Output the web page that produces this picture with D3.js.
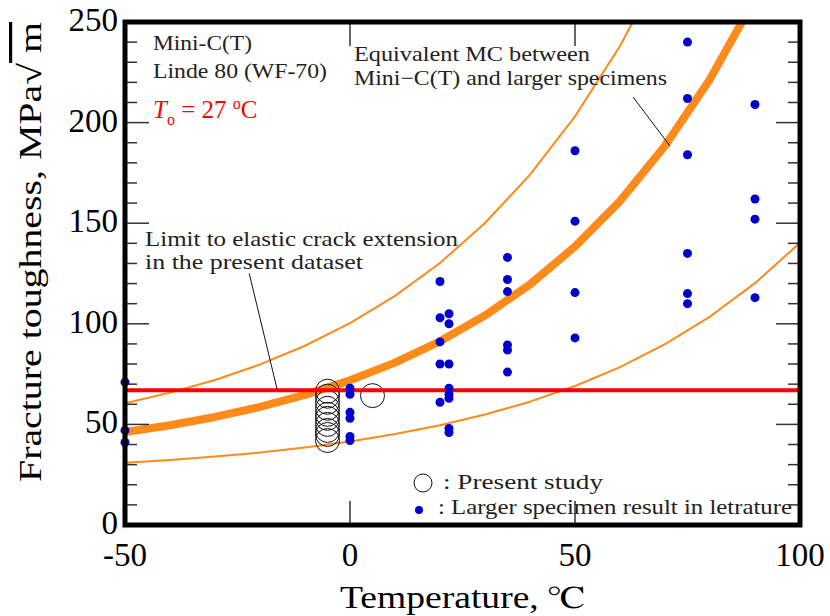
<!DOCTYPE html>
<html>
<head>
<meta charset="utf-8">
<script src="https://cdn.jsdelivr.net/npm/d3@7"></script>
<style>
  body { margin: 0; background: #fff; }
  svg { display: block; }
  svg text { font-family: "Liberation Serif", "Nimbus Roman", "Nimbus Roman No9 L", FreeSerif, Tinos, "Times New Roman", Times, "Noto Serif", serif; }
</style>
</head>
<body>
<svg id="chart" width="830" height="616"></svg>
<script>
// ---- data ----
// larger specimens from literature (filled blue dots)
const largerTemp = [-50, -50, -50,
  0, 0, 0, 0, 0, 0,
  20, 20, 20, 20, 20,
  22, 22, 22, 22, 22, 22, 22, 22,
  35, 35, 35, 35, 35, 35,
  50, 50, 50, 50,
  75, 75, 75, 75, 75, 75,
  90, 90, 90, 90];
const largerK = [71, 47, 41,
  68, 65, 56, 53, 44, 42,
  121, 103, 91, 80, 61,
  105, 100, 80, 68, 65, 63, 48, 46,
  133, 122, 116, 89.5, 87, 76,
  186, 151, 115.5, 93,
  240, 212, 184, 135, 115, 110,
  209, 162, 152, 113];

// present study, Mini-C(T) (open circles)
const presentTemp = [-5, -5, -5, -5, -5, -5, -5, -5, -5, -5, 5];
const presentK = [66.5, 64, 61, 58, 55, 53, 50, 47, 45, 42, 64.3];

// master curve and bounds (read at these temperatures)
const curveTemp = [-50, -40, -30, -20, -10, 0, 10, 20, 30, 40, 50, 60, 70, 80, 90, 100];
const kMedian = [46.2, 49.6, 53.7, 58.7, 64.7, 71.9, 80.7, 91.3, 104.1, 119.6, 138.4, 161.0, 188.5, 221.6, 261.7, null];
const kUpper  = [60.5, 65.8, 72.1, 79.8, 89.1, 100.3, 113.9, 130.2, 150.1, 174.1, 203.1, 238.1, 280.5, null, null, null];
const kLower  = [30.9, 32.3, 34.0, 36.0, 38.5, 41.5, 45.2, 49.6, 54.9, 61.3, 69.1, 78.5, 89.9, 103.6, 120.2, 140.3];

const limitK = 67;

const xTicks = [-50, 0, 50, 100];
const yTicks = [0, 50, 100, 150, 200, 250];

// ---- setup ----
const svg = d3.select("#chart");
const orange = "#ff8a1c";
const blue = "#0000cd";

const x = d3.scaleLinear().domain([-50, 100]).range([125, 800]);
const y = d3.scaleLinear().domain([0, 250]).range([525, 22]);

svg.append("clipPath").attr("id", "clip")
  .append("rect")
  .attr("x", x(-50)).attr("y", y(250))
  .attr("width", x(100) - x(-50)).attr("height", y(0) - y(250));

const plot = svg.append("g").attr("clip-path", "url(#clip)");

// ticks (inside the frame)
const yMinor = d3.range(0, 251, 10);
const tickG = svg.append("g").attr("stroke", "#333").attr("stroke-width", 1.5);
tickG.selectAll(".yl").data(yMinor).join("line")
  .attr("x1", x(-50)).attr("x2", d => x(-50) + (d % 50 === 0 ? 24 : 12))
  .attr("y1", d => y(d)).attr("y2", d => y(d));
tickG.selectAll(".yr").data(yMinor).join("line")
  .attr("x1", x(100)).attr("x2", d => x(100) - (d % 50 === 0 ? 24 : 12))
  .attr("y1", d => y(d)).attr("y2", d => y(d));
tickG.selectAll(".xb").data([0, 50]).join("line")
  .attr("x1", d => x(d)).attr("x2", d => x(d))
  .attr("y1", y(0)).attr("y2", y(0) - 24);
tickG.selectAll(".xt").data([0, 50]).join("line")
  .attr("x1", d => x(d)).attr("x2", d => x(d))
  .attr("y1", y(250)).attr("y2", y(250) + 24);

// curves
const line = d3.line()
  .defined(d => d[1] != null)
  .x(d => x(d[0])).y(d => y(d[1]));

const curves = [
  { k: kUpper, w: 2 },
  { k: kLower, w: 2 },
  { k: kMedian, w: 8 }
];
curves.forEach(c => {
  plot.append("path")
    .datum(curveTemp.map((t, i) => [t, c.k[i]]))
    .attr("d", line)
    .attr("fill", "none")
    .attr("stroke", orange)
    .attr("stroke-width", c.w)
    .attr("stroke-linejoin", "round");
});

// present study circles
plot.selectAll(".present").data(presentTemp).join("circle")
  .attr("cx", d => x(d))
  .attr("cy", (d, i) => y(presentK[i]))
  .attr("r", 12)
  .attr("fill", "none")
  .attr("stroke", "#111")
  .attr("stroke-width", 1);

// limit line
plot.append("line")
  .attr("x1", x(-50)).attr("x2", x(100))
  .attr("y1", y(limitK)).attr("y2", y(limitK))
  .attr("stroke", "#ff0000").attr("stroke-width", 4);

// larger specimen dots
svg.selectAll(".larger").data(largerTemp).join("circle")
  .attr("cx", d => x(d))
  .attr("cy", (d, i) => y(largerK[i]))
  .attr("r", 4.5)
  .attr("fill", blue);

// frame
svg.append("rect")
  .attr("x", x(-50)).attr("y", y(250))
  .attr("width", x(100) - x(-50)).attr("height", y(0) - y(250))
  .attr("fill", "none").attr("stroke", "#000").attr("stroke-width", 5);

// tick labels
svg.selectAll(".ylab").data(yTicks).join("text")
  .attr("x", 118).attr("y", d => y(d) + 9)
  .attr("text-anchor", "end")
  .attr("font-size", 33)
  .text(d => d);
svg.selectAll(".xlab").data(xTicks).join("text")
  .attr("x", d => x(d)).attr("y", 566)
  .attr("text-anchor", "middle")
  .attr("font-size", 33)
  .text(d => d);

// axis titles
svg.append("text")
  .attr("x", 462).attr("y", 608)
  .attr("text-anchor", "middle")
  .attr("font-size", 32)
  .attr("textLength", 244).attr("lengthAdjust", "spacingAndGlyphs")
  .text("Temperature, ℃");

const yt = svg.append("text")
  .attr("transform", "translate(41,252) rotate(-90)")
  .attr("text-anchor", "middle")
  .attr("font-size", 32)
  .attr("textLength", 460).attr("lengthAdjust", "spacingAndGlyphs");
yt.append("tspan").text("Fracture toughness, MPa√");
yt.append("tspan").style("text-decoration", "overline").text(" m");

// annotations
const note = (tx, ty, str, len, size) => svg.append("text")
  .attr("x", tx).attr("y", ty)
  .attr("font-size", size)
  .attr("fill", "#222")
  .attr("textLength", len).attr("lengthAdjust", "spacingAndGlyphs")
  .text(str);

note(153, 50, "Mini-C(T)", 99, 22);
note(153, 78, "Linde 80 (WF-70)", 174, 22);

const to = svg.append("text")
  .attr("x", 153).attr("y", 118)
  .attr("font-size", 25)
  .attr("fill", "#ff0000");
to.append("tspan").attr("font-style", "italic").text("T");
to.append("tspan").attr("font-size", 16).attr("dy", 7).text("o");
to.append("tspan").attr("dy", -7).text(" =  27 ");
to.append("tspan").attr("font-size", 16).attr("dy", -9).text("o");
to.append("tspan").attr("dy", 9).text("C");

note(354, 61, "Equivalent MC between", 236, 21);
note(354, 85, "Mini\u2212C(T) and larger specimens", 313, 21);
note(145, 246, "Limit to elastic crack extension", 313, 21);
note(145, 269, "in the present dataset", 218, 21);

// leader lines
const leaders = [
  [[-22.4, 125.1], [-16.2, 67.5]],
  [[62.9, 212.7], [71.1, 188.4]]
];
svg.selectAll(".leader").data(leaders).join("line")
  .attr("x1", d => x(d[0][0])).attr("y1", d => y(d[0][1]))
  .attr("x2", d => x(d[1][0])).attr("y2", d => y(d[1][1]))
  .attr("stroke", "#111").attr("stroke-width", 1);

// legend
svg.append("circle")
  .attr("cx", 423).attr("cy", 483).attr("r", 9)
  .attr("fill", "none").attr("stroke", "#111").attr("stroke-width", 1);
note(443, 489, ":  Present study", 160, 21);
svg.append("circle")
  .attr("cx", 419).attr("cy", 510).attr("r", 4)
  .attr("fill", blue);
note(438, 514, ": Larger specimen result in letrature", 354, 21);
</script>
</body>
</html>
